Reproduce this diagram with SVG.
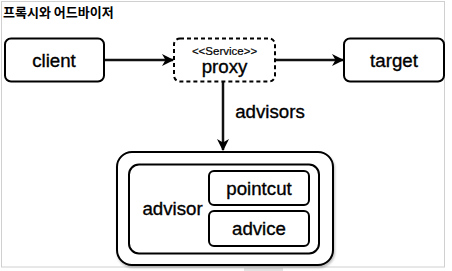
<svg xmlns="http://www.w3.org/2000/svg" width="452" height="271" viewBox="0 0 452 271">
<style>
.box{fill:#fff;stroke:#000;stroke-width:2}
.t{font-family:"Liberation Sans",Arial,sans-serif;fill:#000;text-anchor:middle;stroke:#000;stroke-width:0.35}
.lg{font-size:18.7px}
.sm{font-size:11.5px;stroke-width:0.2}
.ttl{font-family:"Noto Sans CJK KR","Noto Sans",sans-serif;font-size:13px;font-weight:bold;fill:#000}
.con{fill:none;stroke:#111;stroke-width:2.5}
</style>
<defs>
<marker id="ah" viewBox="0 0 12 12" refX="11" refY="6" markerWidth="12" markerHeight="12" markerUnits="userSpaceOnUse" orient="auto">
<path d="M0,0 L12,6 L0,12 L3.5,6 z" fill="#000"/>
</marker>
<filter id="sh" x="-5%" y="-5%" width="115%" height="120%">
<feDropShadow dx="1" dy="2" stdDeviation="1" flood-color="#000" flood-opacity="0.25"/>
</filter>
</defs>
<rect x="1.5" y="1.5" width="443" height="265.5" fill="#fff" stroke="#d0d0d0" stroke-width="1"/>
<rect x="244" y="268" width="39" height="3" fill="#e4e4e4"/>
<text class="ttl" x="3" y="17">프록시와 어드바이저</text>
<g id="connectors">
<line class="con" x1="105" y1="60" x2="173" y2="60" marker-end="url(#ah)"/>
<line class="con" x1="276" y1="60" x2="343" y2="60" marker-end="url(#ah)"/>
<line class="con" x1="223" y1="82" x2="223" y2="150" marker-end="url(#ah)"/>
<text class="t lg" x="270" y="118">advisors</text>
</g>
<g id="client">
<rect class="box" x="5" y="38.5" width="99" height="43" rx="6"/>
<text class="t lg" x="54" y="67">client</text>
</g>
<g id="proxy">
<rect x="174" y="38.5" width="101" height="43" rx="6" fill="#fff" stroke="#000" stroke-width="2" stroke-dasharray="4 3"/>
<text class="t sm" x="224.5" y="55">&lt;&lt;Service&gt;&gt;</text>
<text class="t lg" x="224.5" y="73">proxy</text>
</g>
<g id="target">
<rect class="box" x="344" y="38.5" width="100" height="43" rx="6"/>
<text class="t lg" x="394" y="67">target</text>
</g>
<g id="advisors">
<rect class="box" x="117" y="152" width="216" height="113" rx="15" filter="url(#sh)"/>
</g>
<g id="advisor">
<rect class="box" x="129" y="164.5" width="190" height="89" rx="10"/>
<text class="t lg" x="172.5" y="215">advisor</text>
</g>
<g id="pointcut">
<rect class="box" x="209" y="171" width="100" height="34" rx="5"/>
<text class="t lg" x="259" y="195">pointcut</text>
</g>
<g id="advice">
<rect class="box" x="209" y="211" width="100" height="35" rx="5"/>
<text class="t lg" x="259" y="235">advice</text>
</g>
</svg>
